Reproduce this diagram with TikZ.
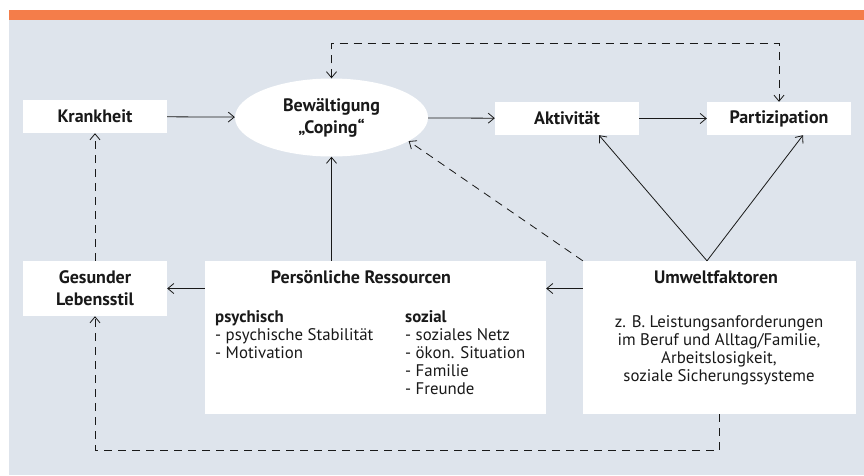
\documentclass[tikz,border=0pt]{standalone}
\usepackage{fontspec}
\setmainfont{PT Sans}
\usetikzlibrary{arrows.meta,shapes.geometric,calc}
\definecolor{bgc}{RGB}{222,228,236}
\definecolor{orng}{RGB}{244,125,74}
\definecolor{ln}{RGB}{25,25,25}
\begin{document}
\begin{tikzpicture}[x=1pt,y=-1pt,
  >={Straight Barb[length=6pt,width=10pt]},
  box/.style={fill=white,inner sep=0pt,rectangle},
  lbl/.style={font=\bfseries\fontsize{18}{22}\selectfont,align=center,text=ln},
  txt/.style={font=\fontsize{16.8}{18.2}\selectfont,text=ln,inner sep=0pt},
  conn/.style={draw=ln,line width=0.8pt,->},
  dconn/.style={conn,dash pattern=on 8pt off 6pt}]
\useasboundingbox (0,0) rectangle (864,475);
\fill[bgc] (9,20) rectangle (864,475);
\fill[orng] (9,10) rectangle (864,20);

\node[box,lbl,minimum width=144pt,minimum height=33pt] (krank) at (95,116.5) {Krankheit};
\node[ellipse,fill=white,inner sep=0pt,minimum width=193pt,minimum height=78pt,lbl] (cope) at (331.5,117.5) {Bewältigung\\„Coping“};
\node[box,lbl,minimum width=144pt,minimum height=33pt] (akt) at (567,118.5) {Aktivität};
\node[box,lbl,minimum width=144pt,minimum height=33pt] (part) at (779,118.5) {Partizipation};
\node[box,lbl,minimum width=144pt,minimum height=55pt] (gesund) at (95,288.5) {Gesunder\\Lebensstil};
\node[box,minimum width=341pt,minimum height=153pt] (pers) at (375.5,337.5) {};
\node[box,minimum width=273pt,minimum height=153pt] (umwelt) at (719.5,337.5) {};

\node[lbl,anchor=base,inner sep=0pt] (perstitle) at (361,283) {Persönliche Ressourcen};
\node[txt,anchor=base west,align=left] (psych) at (215,358.4) {{\bfseries psychisch}\\- psychische Stabilität\\- Motivation};
\node[txt,anchor=base west,align=left] (sozial) at (405,394.8) {{\bfseries sozial}\\- soziales Netz\\- ökon. Situation\\- Familie\\- Freunde};
\node[lbl,anchor=base,inner sep=0pt] (umtitle) at (716,283) {Umweltfaktoren};
\node[txt,anchor=base,align=center] (umtext) at (719,381.6) {z. B. Leistungsanforderungen\\im Beruf und Alltag/Familie,\\Arbeitslosigkeit,\\soziale Sicherungssysteme};

\draw[conn] (krank) -- (cope);
\draw[conn] (cope) -- (akt);
\draw[conn] (akt) -- (part);
\draw[conn] (pers.north -| cope.south) -- (cope.south);
\draw[conn] (gesund.east -| pers.west) -- (gesund.east);
\draw[conn] (gesund.east -| umwelt.west) -- (gesund.east -| pers.east);
\coordinate (apex) at ([xshift=-12.5pt]umwelt.north);
\draw[conn] (apex) -- ([xshift=32pt]akt.south);
\draw[conn] (apex) -- ([xshift=24pt]part.south);
\draw[dconn] (umwelt.north west) -- (cope.-17.5);
\draw[dconn] (gesund.north) -- (krank.south);
\draw[dconn] (umwelt.south) -- ++(0,36) -| (gesund.south);
\draw[dconn,<->] (cope.north) -- ++(0,-35) -| (part.north);
\end{tikzpicture}
\end{document}
